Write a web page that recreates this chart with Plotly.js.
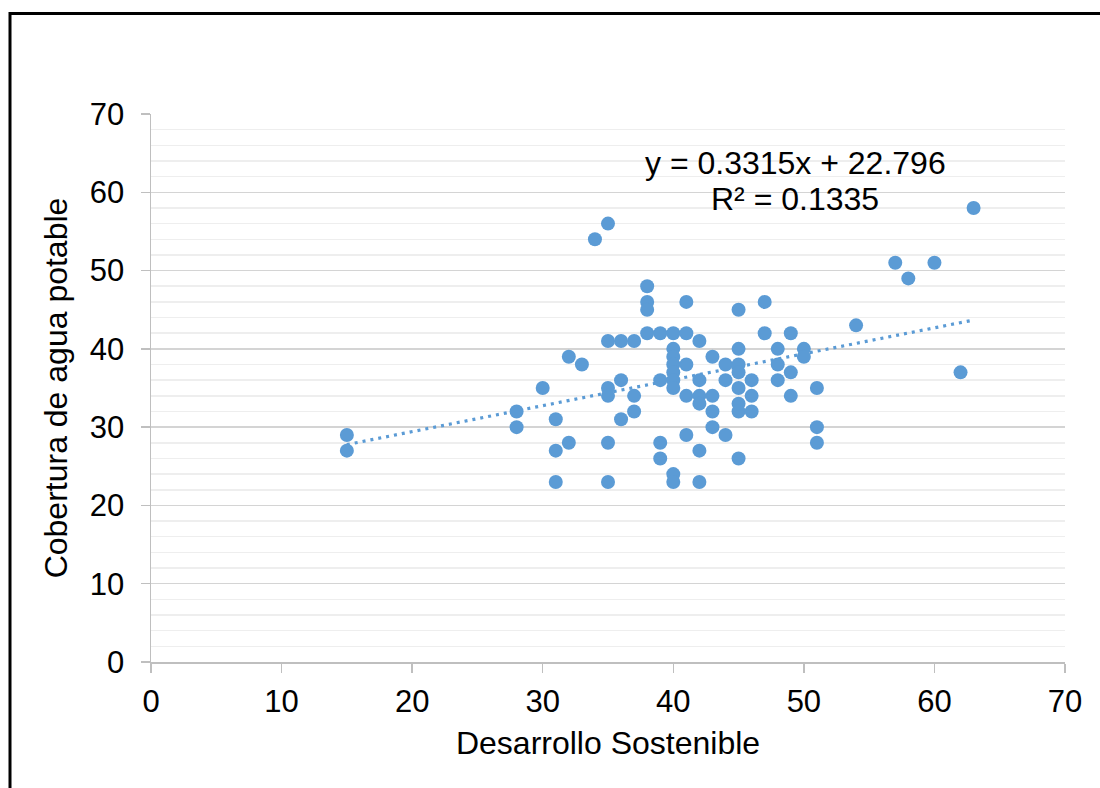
<!DOCTYPE html>
<html>
<head>
<meta charset="utf-8">
<script src="https://cdn.plot.ly/plotly-3.0.1.min.js"></script>
<style>
  html, body { margin: 0; padding: 0; background: #ffffff; }
  #chart { width: 1100px; height: 788px; }
</style>
</head>
<body>
<div id="chart"></div>
<script>
// Desarrollo Sostenible (x) vs Cobertura de agua potable (y)
const desarrolloSostenible = [
  15, 15,
  28, 28,
  30,
  31, 31, 31,
  32, 32,
  33,
  34,
  35, 35, 35, 35, 35, 35,
  36, 36, 36,
  37, 37, 37,
  38, 38, 38, 38,
  39, 39, 39, 39,
  40, 40, 40, 40, 40, 40, 40, 40, 40,
  41, 41, 41, 41, 41,
  42, 42, 42, 42, 42, 42,
  43, 43, 43, 43,
  44, 44, 44,
  45, 45, 45, 45, 45, 45, 45, 45,
  46, 46, 46,
  47, 47,
  48, 48, 48,
  49, 49, 49,
  50, 50,
  51, 51, 51,
  54, 57, 58, 60, 62, 63
];
const coberturaAgua = [
  29, 27,
  32, 30,
  35,
  31, 27, 23,
  39, 28,
  38,
  54,
  56, 41, 35, 34, 28, 23,
  41, 36, 31,
  41, 34, 32,
  48, 46, 45, 42,
  42, 36, 28, 26,
  42, 40, 39, 38, 37, 36, 35, 24, 23,
  46, 42, 38, 34, 29,
  41, 36, 34, 33, 27, 23,
  39, 34, 32, 30,
  38, 36, 29,
  45, 40, 38, 37, 35, 33, 32, 26,
  36, 34, 32,
  46, 42,
  40, 38, 36,
  42, 37, 34,
  40, 39,
  35, 30, 28,
  43, 51, 49, 51, 37, 58
];
const trendSlope = 0.3315;
const trendIntercept = 22.796;
const equationText = "y = 0.3315x + 22.796";
const r2Text = "R² = 0.1335";
const xTitle = "Desarrollo Sostenible";
const yTitle = "Cobertura de agua potable";
const tickValues = [0, 10, 20, 30, 40, 50, 60, 70];

const xMin = Math.min(...desarrolloSostenible);
const xMax = Math.max(...desarrolloSostenible);
const trendX = [xMin, xMax];
const trendY = trendX.map(v => trendSlope * v + trendIntercept);

const blue = '#5B9BD5';
const font = 'Liberation Sans, Arial, sans-serif';

const traces = [
  {
    type: 'scatter', mode: 'lines',
    x: trendX, y: trendY,
    line: { color: blue, width: 3.2, dash: '3px,5px' },
    hoverinfo: 'skip', showlegend: false
  },
  {
    type: 'scatter', mode: 'markers',
    x: desarrolloSostenible, y: coberturaAgua,
    marker: { color: blue, size: 14, line: { width: 0 } },
    showlegend: false
  }
];

const layout = {
  width: 1100, height: 788,
  margin: { l: 151, r: 35, t: 114, b: 126 },
  paper_bgcolor: '#ffffff', plot_bgcolor: '#ffffff',
  font: { family: font, color: '#000000', size: 31 },
  showlegend: false,
  xaxis: {
    range: [0, 70], tickvals: tickValues, ticktext: tickValues.map(String),
    showgrid: false, zeroline: false,
    showline: true, linecolor: '#bfbfbf', linewidth: 1.5,
    ticks: 'outside', ticklen: 9, tickcolor: '#bfbfbf', tickwidth: 1.5,
    ticklabelstandoff: 2,
    tickfont: { family: font, size: 31, color: '#000' },
    title: { text: xTitle, font: { family: font, size: 32, color: '#000' }, standoff: 14 }
  },
  yaxis: {
    range: [0, 70], tickvals: tickValues, ticktext: tickValues.map(String),
    showgrid: true, gridcolor: '#d4d4d4', gridwidth: 1.5,
    minor: { dtick: 2, tick0: 0, showgrid: true, gridcolor: '#eeeeee', gridwidth: 1.5 },
    zeroline: false,
    showline: true, linecolor: '#bfbfbf', linewidth: 1.5,
    ticks: 'outside', ticklen: 9, tickcolor: '#bfbfbf', tickwidth: 1.5,
    ticklabelstandoff: 10,
    tickfont: { family: font, size: 31, color: '#000' },
    title: { text: yTitle, font: { family: font, size: 32, color: '#000' }, standoff: 12 }
  },
  annotations: [
    { xref: 'paper', yref: 'paper', x: (795 - 151) / 914, y: (662 - 163) / 548,
      xanchor: 'center', yanchor: 'middle', showarrow: false,
      text: equationText, font: { family: font, size: 32, color: '#000' } },
    { xref: 'paper', yref: 'paper', x: (795 - 151) / 914, y: (662 - 199) / 548,
      xanchor: 'center', yanchor: 'middle', showarrow: false,
      text: r2Text, font: { family: font, size: 32, color: '#000' } }
  ],
  shapes: [
    { type: 'rect', xref: 'paper', yref: 'paper',
      x0: (10 - 151) / 914, x1: (1115 - 151) / 914,
      y0: (662 - 810) / 548, y1: (662 - 13.5) / 548,
      line: { color: '#000000', width: 3 }, fillcolor: 'rgba(0,0,0,0)', layer: 'above' }
  ]
};

Plotly.newPlot('chart', traces, layout, { displayModeBar: false, staticPlot: true });
</script>
</body>
</html>
